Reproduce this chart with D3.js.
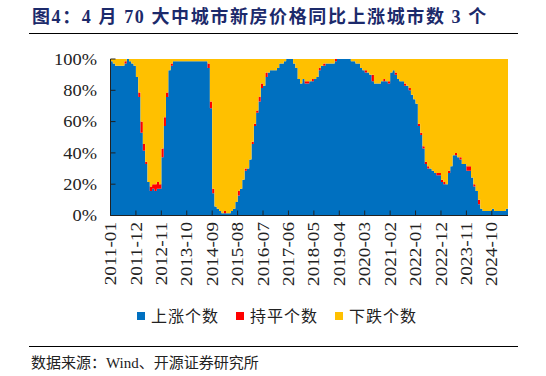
<!DOCTYPE html>
<html>
<head>
<meta charset="utf-8">
<script src="https://cdn.jsdelivr.net/npm/d3@7"></script>
<style>
body { margin: 0; background: #fff; }
text { font-family: "Liberation Serif", "Noto Sans CJK SC", serif; }
</style>
</head>
<body>
<svg id="chart" width="546" height="376"></svg>
<script>
// 70 city count, monthly, 2011-01 .. 2025-04 (one row per year)
var upCount = [
	69, 68, 67, 67, 67, 67, 68, 70, 69, 68, 67, 62,
	53, 37, 29, 23, 15, 11, 12, 11, 12, 12, 26, 40,
	53, 65, 67, 69, 69, 69, 69, 69, 69, 69, 69, 69,
	69, 69, 69, 69, 69, 69, 66, 48, 10, 4, 3, 2,
	1, 1, 1, 1, 2, 3, 6, 9, 12, 16, 20, 21,
	25, 32, 40, 46, 51, 57, 58, 62, 64, 65, 65, 65,
	66, 68, 68, 69, 70, 70, 70, 68, 66, 61, 59, 61,
	59, 59, 60, 60, 61, 62, 65, 67, 67, 68, 68, 68,
	68, 69, 70, 70, 70, 70, 70, 70, 69, 69, 68, 68,
	66, 65, 64, 64, 63, 60, 59, 59, 59, 60, 60, 60,
	59, 64, 65, 63, 61, 60, 60, 58, 58, 56, 54, 52,
	50, 40, 36, 30, 23, 21, 21, 20, 19, 18, 18, 15,
	14, 14, 19, 22, 27, 27, 26, 25, 23, 23, 20, 20,
	17, 13, 11, 5, 3, 2, 2, 2, 2, 3, 2, 2,
	2, 2, 2, 3
];
var flatCount = [
	0, 0, 0, 0, 0, 0, 1, 0, 0, 0, 0, 0,
	2, 5, 3, 1, 0, 2, 2, 3, 3, 2, 4, 4,
	2, 0, 1, 0, 0, 0, 0, 0, 0, 0, 0, 0,
	0, 0, 0, 0, 0, 0, 2, 3, 2, 0, 0, 0,
	0, 1, 0, 0, 0, 0, 0, 2, 0, 0, 1, 0,
	0, 1, 1, 1, 2, 2, 0, 2, 0, 0, 0, 0,
	0, 0, 0, 0, 0, 0, 0, 0, 0, 0, 0, 0,
	1, 1, 0, 1, 0, 0, 1, 0, 1, 0, 0, 0,
	0, 1, 0, 0, 0, 0, 0, 0, 0, 0, 0, 0,
	0, 0, 1, 0, 0, 3, 0, 0, 0, 0, 1, 0,
	1, 0, 0, 1, 0, 0, 0, 1, 0, 1, 0, 0,
	0, 1, 1, 1, 1, 1, 0, 0, 0, 1, 1, 1,
	1, 0, 1, 0, 0, 1, 0, 1, 0, 0, 2, 2,
	0, 1, 0, 2, 0, 0, 0, 0, 0, 0, 0, 0,
	0, 0, 0, 0
];
var cityTotal = 70;
var tickLabels = ["2011-01", "2011-12", "2012-11", "2013-10", "2014-09", "2015-08",
	"2016-07", "2017-06", "2018-05", "2019-04", "2020-03", "2021-02",
	"2022-01", "2022-12", "2023-11", "2024-10"];
var yTicks = [0, 0.2, 0.4, 0.6, 0.8, 1];
var seriesKeys = ["up", "flat", "down"];
var seriesNames = ["上涨个数", "持平个数", "下跌个数"];
var seriesColors = ["#0070C0", "#FF0000", "#FFC000"];

var months = d3.timeMonth.range(new Date(2011, 0, 1), new Date(2025, 4, 1))
				.map(d3.timeFormat("%Y-%m"));

var rows = months.map(function(m, i)
{
	return {
		month: m,
		up: upCount[i] / cityTotal,
		flat: flatCount[i] / cityTotal,
		down: (cityTotal - upCount[i] - flatCount[i]) / cityTotal
	};
});

var svg = d3.select("#chart");
var plotL = 110.5, plotR = 508, plotT = 59, plotB = 215.5;

var x = d3.scaleBand().domain(months).range([plotL, plotR]).padding(0);
var y = d3.scaleLinear().domain([0, 1]).range([plotB, plotT]);

// title
svg.append("text")
	.attr("x", 32)
	.attr("y", 23)
	.style("font-size", "18px")
	.style("font-weight", "bold")
	.style("letter-spacing", "1.6px")
	.style("fill", "#1c2a6b")
	.style("white-space", "pre")
	.text("图4：4 月 70 大中城市新房价格同比上涨城市数 3 个");
svg.append("line")
	.attr("x1", 29).attr("x2", 518)
	.attr("y1", 33.5).attr("y2", 33.5)
	.style("stroke", "#000").style("stroke-width", 1);

// stacked step areas
var layers = d3.stack().keys(seriesKeys)(rows);
var area = d3.area()
			.curve(d3.curveStepAfter)
			.x(function(d) { return d.px; })
			.y0(function(d) { return y(d.v0); })
			.y1(function(d) { return y(d.v1); });

layers.forEach(function(layer, k)
{
	var pts = layer.map(function(d, i) { return { px: x(months[i]), v0: d[0], v1: d[1] }; });
	var last = pts[pts.length - 1];
	pts.push({ px: plotR, v0: last.v0, v1: last.v1 });
	svg.append("path")
		.attr("d", area(pts))
		.style("fill", seriesColors[k])
		.style("stroke", "none");
});

// y axis
var yAxis = svg.append("g");
yAxis.append("line")
	.attr("x1", plotL).attr("x2", plotL)
	.attr("y1", plotT).attr("y2", plotB)
	.style("stroke", "#222");
yAxis.selectAll("line.tick").data(yTicks).enter()
	.append("line")
		.attr("class", "tick")
		.attr("x1", plotL).attr("x2", plotL + 5)
		.attr("y1", function(d) { return y(d); })
		.attr("y2", function(d) { return y(d); })
		.style("stroke", "#222");
yAxis.selectAll("text").data(yTicks).enter()
	.append("text")
		.attr("transform", function(d) { return "translate(97," + y(d) + ") scale(1.15,1)"; })
		.attr("dy", "0.35em")
		.attr("text-anchor", "end")
		.style("font-size", "16px")
		.style("fill", "#222")
		.text(d3.format(".0%"));

// x axis
var xAxis = svg.append("g");
xAxis.append("line")
	.attr("x1", plotL).attr("x2", plotR)
	.attr("y1", plotB).attr("y2", plotB)
	.style("stroke", "#222");
xAxis.selectAll("line.tick").data(tickLabels).enter()
	.append("line")
		.attr("class", "tick")
		.attr("x1", function(d) { return x(d); })
		.attr("x2", function(d) { return x(d); })
		.attr("y1", plotB).attr("y2", plotB - 5)
		.style("stroke", "#222");
xAxis.selectAll("text").data(tickLabels).enter()
	.append("text")
		.attr("transform", function(d) { return "translate(" + x(d) + ",222) rotate(-90) scale(1.2,1)"; })
		.attr("dy", "0.35em")
		.attr("text-anchor", "end")
		.style("font-size", "16px")
		.style("fill", "#222")
		.text(function(d) { return d; });

// legend
var legendX = [137, 236, 335];
var legend = svg.append("g");
seriesNames.forEach(function(name, k)
{
	legend.append("rect")
		.attr("x", legendX[k]).attr("y", 312)
		.attr("width", 8).attr("height", 8)
		.style("fill", seriesColors[k]);
	legend.append("text")
		.attr("x", legendX[k] + 14)
		.attr("y", 322)
		.style("font-size", "16px")
		.style("letter-spacing", "1px")
		.style("fill", "#222")
		.text(name);
});

// source
svg.append("line")
	.attr("x1", 29).attr("x2", 518)
	.attr("y1", 346.5).attr("y2", 346.5)
	.style("stroke", "#000").style("stroke-width", 1);
svg.append("text")
	.attr("x", 31)
	.attr("y", 368)
	.style("font-size", "15px")
	.style("fill", "#222")
	.text("数据来源：Wind、开源证券研究所");
</script>
</body>
</html>
